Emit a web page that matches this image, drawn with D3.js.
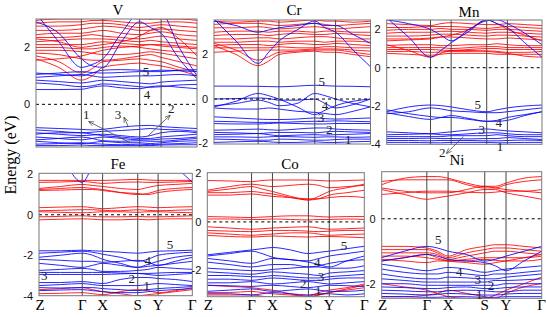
<!DOCTYPE html>
<html><head><meta charset="utf-8">
<script src="https://cdn.jsdelivr.net/npm/d3@7"></script>
<style>body{margin:0;background:#fff}</style>
</head><body><div id="chart"></div>
<script>
// k-path sample points: Z, mid, Γ, mid, X, mid, S, mid, Y, mid, Γ
const kSample = [0, 0.141, 0.282, 0.349, 0.415, 0.53, 0.644, 0.71, 0.777, 0.889, 1];
const kTicks = [0, 0.282, 0.415, 0.644, 0.777, 1];
const kLabels = ["Z", "Γ", "X", "S", "Y", "Γ"];

const panelNames = ["V", "Cr", "Mn", "Fe", "Co", "Ni"];
const panelRanges = [[-1.5, 3], [-2.02, 3.55], [-4, 2.49], [-4, 2.05], [-3.07, 2.02], [-2.45, 1.45]];
const panelTicks = [[0, 2], [-2, 0, 2], [-4, -2, 0, 2], [-4, -2, 0, 2], [-2, 0, 2], [-2, 0]];

// ---- V ----
const vRed = [
  [1.6,1.3,0.85,1.0,1.3,1.4,1.45,1.4,1.35,1.2,1.0],
  [1.7,1.5,1.1,1.25,1.5,1.55,1.6,1.55,1.5,1.3,1.15],
  [1.8,1.75,1.6,1.55,1.55,1.6,1.7,1.75,1.65,1.5,1.35],
  [1.9,1.9,1.85,1.8,1.75,1.75,1.8,1.85,1.8,1.7,1.6],
  [2.0,2.0,1.95,1.95,2.0,2.05,2.0,1.95,1.9,1.85,1.8],
  [2.1,2.1,2.1,2.15,2.2,2.15,2.1,2.1,2.05,2.0,1.95],
  [2.2,2.25,2.3,2.3,2.3,2.25,2.2,2.25,2.2,2.15,2.1],
  [2.35,2.35,2.4,2.45,2.4,2.35,2.3,2.35,2.4,2.3,2.25],
  [2.45,2.5,2.5,2.55,2.6,2.5,2.45,2.5,2.55,2.45,2.4],
  [2.6,2.6,2.65,2.7,2.75,2.7,2.6,2.6,2.65,2.6,2.55],
  [2.75,2.75,2.8,2.85,2.85,2.8,2.7,2.75,2.8,2.75,2.7],
  [2.85,2.9,2.9,2.95,2.95,2.9,2.85,2.85,2.9,2.9,2.85],
  [2.95,3.0,3.0,3.05,3.0,3.05,3.0,3.0,3.0,3.0,2.95],
  [1.55,1.6,1.7,1.8,1.9,2.0,2.05,2.1,2.1,2.05,2.0],
  [2.3,2.2,2.0,2.05,2.1,2.2,2.4,2.6,2.7,2.3,1.7]
];
const vBlue = [
  [-0.82,-0.85,-0.88,-0.9,-0.88,-0.8,-0.75,-0.74,-0.78,-0.82,-0.85],
  [-0.9,-0.95,-1.0,-0.98,-0.95,-0.92,-0.88,-0.85,-0.88,-0.9,-0.95],
  [-1.0,-1.05,-1.1,-1.08,-1.05,-1.1,-1.15,-1.1,-1.0,-0.95,-1.0],
  [-1.05,-1.0,-1.0,-1.05,-1.1,-1.15,-1.2,-1.2,-1.15,-1.1,-1.05],
  [-1.15,-1.2,-1.25,-1.2,-1.15,-1.2,-1.25,-1.25,-1.22,-1.2,-1.15],
  [-1.25,-1.2,-1.15,-1.2,-1.28,-1.3,-1.28,-1.3,-1.3,-1.25,-1.2],
  [-1.3,-1.35,-1.38,-1.35,-1.3,-1.35,-1.35,-1.38,-1.35,-1.3,-1.28],
  [-1.4,-1.38,-1.35,-1.38,-1.4,-1.42,-1.4,-1.42,-1.4,-1.38,-1.35],
  [-1.45,-1.45,-1.43,-1.45,-1.45,-1.45,-1.45,-1.45,-1.43,-1.42,-1.42],
  [0.52,0.52,0.53,0.6,0.65,0.58,0.55,0.62,0.65,0.6,0.55],
  [0.75,0.7,0.62,0.65,0.72,0.68,0.62,0.6,0.62,0.68,0.7],
  [0.85,0.8,0.75,0.8,0.85,0.8,0.75,0.72,0.78,0.82,0.85],
  [0.95,1.0,1.05,1.0,0.95,0.98,1.0,1.0,1.02,1.05,1.0],
  [1.05,1.1,1.15,1.12,1.1,1.12,1.15,1.15,1.15,1.2,1.22],
  [1.1,1.05,1.0,1.1,1.2,1.22,1.2,1.18,1.2,1.18,1.15],
  [3.2,2.2,1.3,1.4,1.6,2.5,3.2,3.0,3.2,2.0,1.0],
  [2.9,2.5,1.6,1.35,1.3,2.2,2.9,2.7,2.5,1.6,0.9]
];

// ---- Cr ----
const crRed = [
  [2.4,2.0,1.5,1.7,2.0,2.1,2.15,2.1,2.1,2.0,1.9],
  [2.5,2.2,1.75,1.9,2.1,2.15,2.2,2.2,2.2,2.1,2.0],
  [2.1,2.15,2.2,2.2,2.2,2.2,2.25,2.25,2.25,2.2,2.15],
  [2.3,2.3,2.3,2.3,2.35,2.3,2.3,2.35,2.35,2.3,2.3],
  [2.4,2.45,2.45,2.4,2.45,2.5,2.45,2.45,2.5,2.45,2.4],
  [2.55,2.55,2.6,2.6,2.55,2.6,2.6,2.55,2.6,2.6,2.55],
  [2.7,2.7,2.75,2.75,2.7,2.75,2.8,2.8,2.75,2.7,2.7],
  [2.85,2.9,2.9,2.85,2.9,2.95,2.9,2.9,2.95,2.9,2.85],
  [3.0,3.05,3.05,3.0,3.05,3.05,3.0,3.05,3.05,3.0,3.0],
  [3.2,3.2,3.25,3.2,3.15,3.2,3.25,3.2,3.15,3.2,3.25],
  [3.35,3.4,3.4,3.35,3.3,3.35,3.4,3.35,3.3,3.35,3.4],
  [3.5,3.45,3.5,3.5,3.45,3.5,3.55,3.5,3.5,3.45,3.5]
];
const crBlue = [
  [0.58,0.58,0.57,0.56,0.55,0.58,0.62,0.6,0.58,0.57,0.55],
  [-0.35,-0.1,0.25,0.15,0.0,-0.35,-0.7,-0.5,-0.3,-0.1,0.0],
  [0.0,0.02,0.05,0.02,-0.05,-0.05,0.0,-0.2,-0.4,-0.25,0.0],
  [-0.3,-0.2,-0.05,-0.15,-0.3,-0.2,0.25,0.15,0.0,-0.2,-0.35],
  [-0.4,-0.45,-0.45,-0.4,-0.45,-0.55,-0.6,-0.65,-0.7,-0.55,-0.35],
  [-0.8,-0.85,-0.9,-0.92,-0.92,-0.9,-0.85,-0.88,-0.9,-0.88,-0.85],
  [-1.0,-1.02,-1.05,-1.05,-1.05,-1.02,-1.0,-1.0,-0.98,-1.0,-1.02],
  [-1.1,-1.12,-1.12,-1.1,-1.08,-1.1,-1.12,-1.12,-1.1,-1.1,-1.1],
  [-1.4,-1.38,-1.35,-1.38,-1.4,-1.35,-1.3,-1.3,-1.35,-1.38,-1.4],
  [-1.5,-1.52,-1.55,-1.52,-1.5,-1.5,-1.52,-1.48,-1.45,-1.48,-1.5],
  [-1.6,-1.58,-1.55,-1.6,-1.65,-1.62,-1.6,-1.62,-1.6,-1.58,-1.55],
  [-1.7,-1.7,-1.72,-1.7,-1.68,-1.7,-1.72,-1.7,-1.7,-1.72,-1.7],
  [-1.8,-1.82,-1.85,-1.85,-1.8,-1.82,-1.85,-1.85,-1.82,-1.8,-1.8],
  [-1.95,-1.92,-1.9,-1.92,-1.95,-1.95,-1.92,-1.95,-1.95,-1.92,-1.9],
  [3.6,2.6,1.6,2.1,2.6,3.1,3.5,3.2,3.0,2.2,1.45],
  [3.5,3.3,3.0,3.1,3.2,3.3,3.4,3.3,3.3,2.9,2.5]
];

// ---- Mn ----
const mnRed = [
  [1.2,0.9,0.55,0.75,0.9,0.9,0.85,0.8,0.75,0.6,0.55],
  [0.75,0.7,0.65,0.7,0.75,0.75,0.75,0.7,0.7,0.7,0.7],
  [0.85,0.85,0.8,0.82,0.85,0.85,0.88,0.85,0.8,0.8,0.85],
  [0.95,0.95,0.95,0.92,0.9,0.95,1.0,1.0,0.95,0.95,0.95],
  [1.05,1.05,1.05,1.05,1.0,1.05,1.1,1.1,1.05,1.05,1.05],
  [1.15,1.2,1.2,1.15,1.15,1.2,1.2,1.25,1.2,1.15,1.15],
  [1.5,1.5,1.55,1.6,1.6,1.55,1.5,1.5,1.55,1.5,1.45],
  [1.65,1.65,1.7,1.75,1.75,1.7,1.65,1.7,1.7,1.65,1.6],
  [1.8,1.85,1.85,1.9,1.9,1.85,1.8,1.85,1.85,1.8,1.75],
  [1.95,2.0,2.0,2.05,2.0,2.0,1.95,2.0,2.0,1.95,1.9],
  [2.1,2.1,2.15,2.15,2.15,2.1,2.05,2.1,2.15,2.1,2.05],
  [2.3,2.25,2.2,2.3,2.35,2.3,2.25,2.25,2.3,2.25,2.2],
  [1.4,1.45,1.5,1.6,1.7,2.0,2.5,2.3,2.0,1.7,1.4]
];
const mnBlue = [
  [2.6,1.6,0.55,0.9,1.3,1.9,2.5,2.3,2.1,1.3,0.55],
  [2.5,2.3,2.0,1.7,1.4,2.0,2.45,2.5,2.3,1.8,1.2],
  [-2.3,-2.05,-1.95,-1.98,-2.05,-2.2,-2.3,-2.2,-2.1,-2.0,-1.95],
  [-2.4,-2.3,-2.1,-2.15,-2.25,-2.3,-2.35,-2.35,-2.3,-2.2,-2.1],
  [-2.2,-2.4,-2.55,-2.6,-2.6,-2.7,-2.8,-2.8,-2.75,-2.5,-2.3],
  [-2.35,-2.55,-2.7,-2.6,-2.5,-2.65,-2.8,-2.75,-2.6,-2.45,-2.3],
  [-3.35,-3.4,-3.45,-3.4,-3.35,-3.25,-3.2,-3.25,-3.3,-3.35,-3.4],
  [-3.5,-3.48,-3.45,-3.5,-3.5,-3.45,-3.4,-3.4,-3.45,-3.5,-3.5],
  [-3.6,-3.6,-3.6,-3.6,-3.55,-3.55,-3.55,-3.5,-3.55,-3.6,-3.6],
  [-3.7,-3.7,-3.68,-3.7,-3.7,-3.72,-3.7,-3.7,-3.65,-3.7,-3.75],
  [-3.8,-3.8,-3.82,-3.8,-3.8,-3.8,-3.82,-3.82,-3.8,-3.78,-3.8],
  [-3.9,-3.9,-3.92,-3.92,-3.9,-3.9,-3.9,-3.92,-3.92,-3.9,-3.9]
];

// ---- Fe ----
const feRed = [
  [0.35,0.38,0.4,0.35,0.3,0.35,0.4,0.38,0.35,0.38,0.4],
  [0.2,0.22,0.25,0.25,0.22,0.2,0.25,0.22,0.2,0.22,0.25],
  [0.15,0.12,0.1,0.12,0.15,0.15,0.12,0.15,0.15,0.12,0.1],
  [-0.1,-0.08,-0.05,-0.08,-0.1,-0.1,-0.08,-0.1,-0.1,-0.08,-0.05],
  [-0.25,-0.22,-0.2,-0.22,-0.25,-0.25,-0.22,-0.25,-0.22,-0.2,-0.2],
  [1.7,1.7,1.7,1.7,1.7,1.72,1.75,1.72,1.7,1.7,1.7],
  [1.6,1.62,1.65,1.6,1.55,1.6,1.62,1.6,1.6,1.62,1.65],
  [1.3,1.4,1.5,1.45,1.4,1.3,1.25,1.35,1.45,1.5,1.55],
  [1.25,1.3,1.35,1.3,1.25,1.1,1.0,1.05,1.2,1.3,1.35],
  [1.2,1.22,1.25,1.25,1.2,1.1,1.05,1.0,1.1,1.2,1.25],
  [-3.7,-3.65,-3.6,-3.7,-3.8,-3.9,-4.0,-3.95,-3.9,-3.8,-3.7],
  [-3.9,-3.88,-3.85,-3.9,-3.95,-3.8,-3.7,-3.75,-3.85,-3.75,-3.6]
];
const feBlue = [
  [3.5,2.8,1.6,2.4,3.2,3.5,3.5,3.5,3.2,2.4,1.6],
  [-1.78,-1.78,-1.75,-1.78,-1.8,-1.85,-1.9,-1.85,-1.8,-1.78,-1.75],
  [-1.9,-1.85,-1.8,-1.85,-1.95,-2.1,-2.3,-2.2,-2.0,-1.9,-1.85],
  [-2.1,-2.0,-1.9,-2.0,-2.2,-2.4,-2.6,-2.45,-2.3,-2.1,-2.0],
  [-2.2,-2.25,-2.3,-2.3,-2.35,-2.3,-2.25,-2.35,-2.5,-2.3,-2.1],
  [-2.4,-2.5,-2.6,-2.5,-2.4,-2.5,-2.6,-2.55,-2.5,-2.4,-2.3],
  [-2.75,-2.7,-2.65,-2.7,-2.8,-2.8,-2.75,-2.7,-2.6,-2.65,-2.7],
  [-2.85,-2.85,-2.85,-2.85,-2.85,-2.88,-2.9,-2.9,-2.88,-2.85,-2.85],
  [-2.95,-2.95,-2.95,-2.95,-2.95,-2.92,-2.9,-2.95,-3.0,-2.95,-2.9],
  [-3.35,-3.35,-3.3,-3.35,-3.4,-3.2,-3.1,-3.1,-3.15,-3.2,-3.3],
  [-3.5,-3.45,-3.4,-3.45,-3.5,-3.5,-3.5,-3.45,-3.4,-3.45,-3.5],
  [-3.6,-3.62,-3.6,-3.6,-3.65,-3.7,-3.75,-3.7,-3.65,-3.6,-3.55],
  [-3.75,-3.72,-3.7,-3.75,-3.8,-3.85,-3.85,-3.8,-3.75,-3.7,-3.65]
];

// ---- Co ----
const coRed = [
  [1.7,1.68,1.65,1.7,1.72,1.72,1.72,1.7,1.68,1.7,1.72],
  [1.3,1.45,1.55,1.5,1.45,1.5,1.55,1.5,1.4,1.45,1.5],
  [1.25,1.35,1.45,1.35,1.25,1.05,0.9,1.05,1.25,1.4,1.55],
  [1.2,1.2,1.25,1.2,1.15,1.0,0.9,0.95,1.1,1.2,1.3],
  [1.1,1.1,1.15,1.1,1.05,1.0,0.95,0.95,1.0,1.05,1.0],
  [0.22,0.2,0.18,0.2,0.22,0.25,0.25,0.22,0.2,0.22,0.22],
  [0.12,0.12,0.1,0.1,0.12,0.1,0.08,0.1,0.1,0.12,0.1],
  [-0.2,-0.25,-0.3,-0.28,-0.25,-0.22,-0.2,-0.25,-0.3,-0.28,-0.25],
  [-0.35,-0.38,-0.4,-0.38,-0.35,-0.35,-0.38,-0.4,-0.38,-0.35,-0.35],
  [-0.45,-0.5,-0.55,-0.52,-0.5,-0.45,-0.45,-0.5,-0.55,-0.52,-0.5],
  [-0.55,-0.6,-0.62,-0.6,-0.58,-0.6,-0.62,-0.6,-0.6,-0.62,-0.65],
  [-2.6,-2.65,-2.7,-2.75,-2.8,-2.95,-3.05,-2.9,-2.8,-2.7,-2.55],
  [-2.9,-2.9,-2.85,-2.9,-2.95,-3.0,-3.05,-3.0,-2.9,-2.8,-2.7],
  [-3.0,-3.0,-3.0,-3.05,-3.1,-3.1,-3.1,-3.0,-2.9,-2.75,-2.6]
];
const coBlue = [
  [-1.35,-1.25,-1.15,-1.1,-1.05,-1.15,-1.3,-1.25,-1.2,-1.1,-1.0],
  [-1.4,-1.3,-1.2,-1.3,-1.45,-1.55,-1.6,-1.5,-1.4,-1.3,-1.2],
  [-1.5,-1.6,-1.7,-1.6,-1.5,-1.55,-1.65,-1.75,-1.85,-1.6,-1.4],
  [-1.65,-1.75,-1.85,-1.8,-1.75,-1.75,-1.85,-1.8,-1.7,-1.6,-1.55],
  [-1.9,-1.95,-2.0,-2.0,-1.95,-1.9,-1.85,-1.85,-1.9,-1.9,-1.8],
  [-2.05,-2.1,-2.15,-2.1,-2.05,-2.1,-2.15,-2.2,-2.1,-2.05,-2.0],
  [-2.2,-2.2,-2.25,-2.25,-2.2,-2.25,-2.3,-2.3,-2.25,-2.2,-2.15],
  [-2.35,-2.35,-2.4,-2.35,-2.3,-2.35,-2.4,-2.4,-2.35,-2.3,-2.3],
  [-2.5,-2.5,-2.45,-2.5,-2.55,-2.5,-2.45,-2.5,-2.55,-2.5,-2.45],
  [-2.6,-2.62,-2.65,-2.62,-2.6,-2.65,-2.7,-2.65,-2.6,-2.62,-2.65],
  [-2.85,-2.8,-2.75,-2.8,-2.85,-2.8,-2.75,-2.8,-2.85,-2.85,-2.8],
  [-2.95,-2.95,-3.0,-2.95,-2.9,-2.95,-3.0,-2.95,-2.95,-3.0,-2.95]
];

// ---- Ni ----
const niRed = [
  [1.05,1.25,1.3,1.3,1.25,1.1,1.0,1.0,1.1,1.25,1.3],
  [1.15,1.2,1.2,1.2,1.2,1.05,0.95,0.95,1.05,1.15,1.2],
  [0.95,0.85,0.8,0.8,0.8,0.9,1.0,0.95,0.9,0.85,0.8],
  [0.9,0.75,0.6,0.65,0.7,0.8,0.9,0.9,0.8,0.7,0.6],
  [0.75,0.8,0.85,0.85,0.85,0.82,0.8,0.82,0.85,0.85,0.9],
  [-0.85,-0.85,-0.9,-1.0,-1.15,-0.95,-0.85,-0.8,-0.8,-0.85,-0.9],
  [-0.95,-0.95,-0.95,-1.05,-1.2,-1.05,-0.95,-0.9,-0.9,-0.95,-1.0],
  [-1.05,-1.05,-1.05,-1.1,-1.25,-1.15,-1.05,-1.0,-1.0,-1.05,-1.1],
  [-1.15,-1.15,-1.2,-1.25,-1.3,-1.25,-1.2,-1.2,-1.2,-1.2,-1.15],
  [-1.25,-1.3,-1.35,-1.3,-1.3,-1.3,-1.25,-1.28,-1.3,-1.3,-1.25],
  [-1.3,-1.2,-1.1,-1.2,-1.3,-1.35,-1.4,-1.35,-1.3,-1.2,-1.1],
  [-2.0,-2.1,-2.2,-2.3,-2.4,-2.45,-2.45,-2.35,-2.2,-2.0,-1.8],
  [-2.4,-2.4,-2.35,-2.3,-2.2,-2.3,-2.4,-2.45,-2.3,-2.1,-2.0]
];
const niBlue = [
  [-1.2,-1.0,-0.85,-0.9,-1.0,-1.1,-1.3,-1.25,-1.15,-1.0,-0.85],
  [-1.3,-1.2,-1.1,-1.15,-1.25,-1.3,-1.35,-1.45,-1.6,-1.3,-1.0],
  [-1.4,-1.5,-1.6,-1.55,-1.5,-1.55,-1.65,-1.6,-1.55,-1.5,-1.45],
  [-1.55,-1.65,-1.7,-1.7,-1.65,-1.7,-1.75,-1.7,-1.7,-1.65,-1.6],
  [-1.7,-1.8,-1.85,-1.85,-1.8,-1.82,-1.85,-1.85,-1.8,-1.75,-1.7],
  [-1.85,-1.9,-1.95,-1.95,-1.95,-1.95,-1.95,-1.9,-1.9,-1.88,-1.85],
  [-2.0,-2.0,-2.05,-2.05,-2.05,-2.05,-2.05,-2.05,-2.0,-2.0,-2.0],
  [-2.1,-2.12,-2.15,-2.15,-2.12,-2.1,-2.15,-2.15,-2.12,-2.1,-2.1],
  [-2.2,-2.22,-2.25,-2.25,-2.22,-2.2,-2.22,-2.25,-2.25,-2.2,-2.2],
  [-2.3,-2.32,-2.35,-2.33,-2.3,-2.32,-2.35,-2.35,-2.32,-2.3,-2.3],
  [-2.4,-2.4,-2.42,-2.42,-2.4,-2.4,-2.42,-2.42,-2.4,-2.4,-2.4]
];

// band-index annotations: [text, k, E]
const vMarks = [["5",0.683,1.17],["4",0.689,0.36],["1",0.312,-0.34],["3",0.51,-0.34],["2",0.84,-0.13]];
const crMarks = [["5",0.688,0.81],["4",0.709,-0.27],["3",0.684,-0.82],["2",0.737,-1.36],["1",0.858,-1.81]];
const mnMarks = [["5",0.586,-1.91],["4",0.721,-2.87],["3",0.612,-3.22],["2",0.358,-4.44],["1",0.73,-4.09]];
const feMarks = [["5",0.855,-1.46],["4",0.709,-2.27],["3",0.035,-2.98],["2",0.605,-3.14],["1",0.703,-3.47]];
const coMarks = [["5",0.871,-0.95],["4",0.701,-1.67],["3",0.724,-2.22],["2",0.611,-2.52],["1",0.707,-2.8]];
const niMarks = [["5",0.354,-0.63],["4",0.485,-1.63],["3",0.6,-1.87],["2",0.683,-2.04],["1",0.61,-2.33]];

// arrows: [k0, E0, k1, E1] head at (k1,E1)
const vArrows = [[0.584,-1.35,0.329,-0.61],[0.573,-0.79,0.548,-0.46],[0.698,-1.1,0.832,-0.39]];
const mnArrows = [[0.493,-3.6,0.386,-4.47]];

const panelRed = [vRed, crRed, mnRed, feRed, coRed, niRed];
const panelBlue = [vBlue, crBlue, mnBlue, feBlue, coBlue, niBlue];
const panelMarks = [vMarks, crMarks, mnMarks, feMarks, coMarks, niMarks];
const panelArrows = [vArrows, [], mnArrows, [], [], []];

// panel boxes (pixels)
const boxes = [
  {x0: 36, x1: 197, y0: 19, y1: 147, tx: 118, ty: 15},
  {x0: 214, x1: 370.5, y0: 20, y1: 144, tx: 294, ty: 15},
  {x0: 386.7, x1: 542, y0: 20, y1: 144.3, tx: 469, ty: 17},
  {x0: 39, x1: 192.3, y0: 173.3, y1: 295.7, tx: 118, ty: 169},
  {x0: 207.3, x1: 364.3, y0: 172.7, y1: 296.7, tx: 290, ty: 169},
  {x0: 381.7, x1: 541.7, y0: 171.7, y1: 298.3, tx: 457, ty: 165}
];

const width = 546, height = 317;
const svg = d3.select("#chart").append("svg")
  .attr("width", width).attr("height", height)
  .style("font-family", "'Liberation Serif', serif");

svg.append("defs").append("marker")
  .attr("id", "arr").attr("viewBox", "0 0 10 10")
  .attr("refX", 9).attr("refY", 5)
  .attr("markerWidth", 7).attr("markerHeight", 7)
  .attr("orient", "auto-start-reverse")
  .append("path").attr("d", "M0,1 L10,5 L0,9").attr("fill", "none")
  .attr("stroke", "#444").attr("stroke-width", 1.2);

panelNames.forEach(function(name, i) {
  const b = boxes[i];
  const x = d3.scaleLinear().domain([0, 1]).range([b.x0, b.x1]);
  const y = d3.scaleLinear().domain(panelRanges[i]).range([b.y1, b.y0]);
  const g = svg.append("g");

  const clipId = "clip" + i;
  svg.select("defs").append("clipPath").attr("id", clipId)
    .append("rect").attr("x", b.x0).attr("y", b.y0)
    .attr("width", b.x1 - b.x0).attr("height", b.y1 - b.y0);

  const line = d3.line()
    .x((d, j) => x(kSample[j]))
    .y(d => y(d))
    .curve(d3.curveMonotoneX);

  const bands = g.append("g").attr("clip-path", "url(#" + clipId + ")");
  bands.selectAll(".red").data(panelRed[i]).enter().append("path")
    .attr("d", line).attr("fill", "none")
    .attr("stroke", "#ff0000").attr("stroke-width", 1).attr("stroke-opacity", 0.85);
  bands.selectAll(".blue").data(panelBlue[i]).enter().append("path")
    .attr("d", line).attr("fill", "none")
    .attr("stroke", "#0000ff").attr("stroke-width", 1).attr("stroke-opacity", 0.85);

  // high-symmetry lines
  g.selectAll(".kline").data(kTicks.slice(1, -1)).enter().append("line")
    .attr("x1", d => x(d)).attr("x2", d => x(d))
    .attr("y1", b.y0).attr("y2", b.y1)
    .attr("stroke", "#444").attr("stroke-width", 1);

  // Fermi level
  g.append("line")
    .attr("x1", b.x0).attr("x2", b.x1)
    .attr("y1", y(0)).attr("y2", y(0))
    .attr("stroke", "#000").attr("stroke-width", 1).attr("stroke-dasharray", "3,3");

  g.append("rect")
    .attr("x", b.x0).attr("y", b.y0)
    .attr("width", b.x1 - b.x0).attr("height", b.y1 - b.y0)
    .attr("fill", "none").attr("stroke", "#777").attr("stroke-width", 1);

  // y tick labels
  g.selectAll(".yt").data(panelTicks[i]).enter().append("text")
    .attr("x", b.x0 - 6).attr("y", d => y(d))
    .attr("dy", "0.35em").attr("text-anchor", "end")
    .style("font-family", "'Liberation Sans', sans-serif")
    .style("font-size", "11px").attr("fill", "#111")
    .text(d => d);

  // title
  g.append("text").attr("x", b.tx).attr("y", b.ty)
    .attr("text-anchor", "middle").style("font-size", "15px")
    .text(name);

  // k labels on lower row
  if (i >= 3) {
    g.selectAll(".kl").data(kTicks).enter().append("text")
      .attr("x", (d, j) => j === 0 ? x(d) + 1 : x(d))
      .attr("y", 310).attr("text-anchor", "middle")
      .style("font-size", "15px")
      .text((d, j) => kLabels[j]);
  }

  // band annotations
  g.selectAll(".mk").data(panelMarks[i]).enter().append("text")
    .attr("x", d => x(d[1])).attr("y", d => y(d[2]))
    .attr("dy", "0.35em").attr("text-anchor", "middle")
    .style("font-size", "13px").attr("fill", "#222")
    .text(d => d[0]);

  g.selectAll(".ar").data(panelArrows[i]).enter().append("line")
    .attr("x1", d => x(d[0])).attr("y1", d => y(d[1]))
    .attr("x2", d => x(d[2])).attr("y2", d => y(d[3]))
    .attr("stroke", "#444").attr("stroke-width", 0.8)
    .attr("marker-end", "url(#arr)");
});

svg.append("text")
  .attr("transform", "translate(16,155) rotate(-90)")
  .attr("text-anchor", "middle").style("font-size", "16px")
  .text("Energy (eV)");
</script>
</body></html>
